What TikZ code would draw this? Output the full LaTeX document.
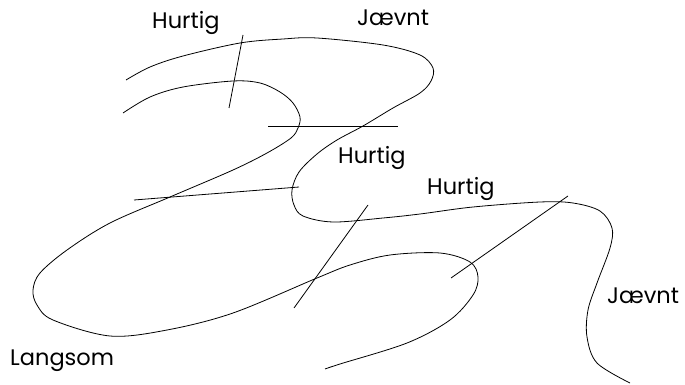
\documentclass[tikz,border=0pt]{standalone}
\usepackage{fontspec}
\setmainfont{Poppins}
\usetikzlibrary{positioning}

\begin{document}
\begin{tikzpicture}[x=1pt, y=-1pt, edge/.style={line width=0.8pt, line join=round}, cross/.style={line width=0.8pt}, speed/.style={anchor=base west, inner sep=0pt, font=\fontsize{22.5}{26}\selectfont}]
        \useasboundingbox (0,0) rectangle (685,385);
        % outer edge of the track
        \draw[edge] plot[smooth, tension=0.55] coordinates {(126,80) (150,67) (183,56) (240,43) (283,39) (317,38) (383,45) (420,55) (433,68) (431,81) (420,93) (393,108) (363,126) (337,140) (317,154) (299,172) (292,190) (294,205) (303,216) (333,222) (383,218) (420,214) (473,207) (540,202) (573,203) (600,211) (612,228) (610,248) (597,283) (588,310) (587,337) (597,363) (630,383)};
        % inner edge of the track
        \draw[edge] plot[smooth, tension=0.55] coordinates {(123,113) (150,97) (183,87) (233,81) (260,83) (280,92) (293,103) (300,117) (298,128) (291,138) (267,153) (233,170) (170,197) (110,223) (67,250) (40,273) (33,290) (37,305) (53,320) (110,336) (167,330) (233,313) (317,278) (350,265) (390,255) (440,253) (470,262) (478,277) (473,295) (450,320) (407,343) (340,364) (325,369)};
        % cross lines
        \draw[cross] (243,35) -- (229,108);
        \draw[cross] (268,126) -- (398,126);
        \draw[cross] (134,200) -- (299,187);
        \draw[cross] (368,205) -- (294,308);
        \draw[cross] (568,196) -- (451,278);
        % speed labels
        \node[speed] (h1) at (152,29) {Hurtig};
        \node[speed] (j1) at (357,26) {Jævnt};
        \node[speed] (h2) at (338,164) {Hurtig};
        \node[speed] (h3) at (427,194) {Hurtig};
        \node[speed] (j2) at (607,303) {Jævnt};
        \node[speed] (ls) at (10,365) {Langsom};
    \end{tikzpicture}
\end{document}
